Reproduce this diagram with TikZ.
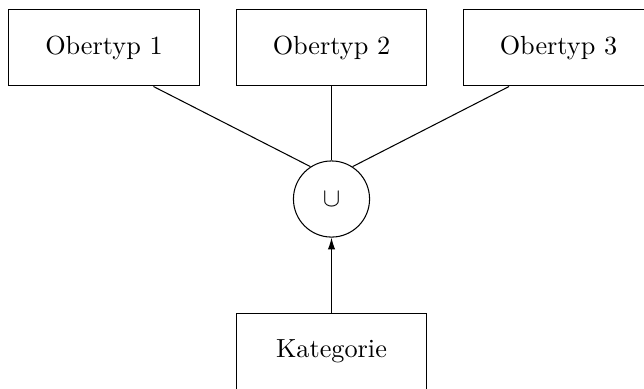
\documentclass[tikz,border=0pt]{standalone}
\usepackage{tikz}
\usetikzlibrary{arrows.meta,positioning,calc}
\tikzset{
  typbox/.style={draw, align=center, minimum width=2.55cm, minimum height=1.03cm, inner sep=3pt},
  unionnode/.style={circle, draw, minimum size=1.02cm, inner sep=0pt},
  typedge/.style={-, draw=black},
  typarrow/.style={-{Latex[length=4.5pt,width=2.8pt]}}
}
\begin{document}
\begin{tikzpicture}[x=0.0134cm, y=-0.0134cm]
  \useasboundingbox (0,0) rectangle (644,388);

  \node[typbox] (ot1) at (104,47.5) {Obertyp 1};
  \node[typbox] (ot2) at (331.5,47.5) {Obertyp 2};
  \node[typbox] (ot3) at (558.5,47.5) {Obertyp 3};
  \node[unionnode] (cup) at (331.5,199) {$\cup$};
  \node[typbox] (kat) at (331.5,351.5) {Kategorie};

  \draw[typedge] ([xshift=-0.62cm]ot1.south east) -- (cup.123);
  \draw[typedge] (ot2.south) -- (cup.north);
  \draw[typedge] ([xshift=0.62cm]ot3.south west) -- (cup.57);
  \draw[typarrow] (kat.north) -- (cup.south);
\end{tikzpicture}
\end{document}
